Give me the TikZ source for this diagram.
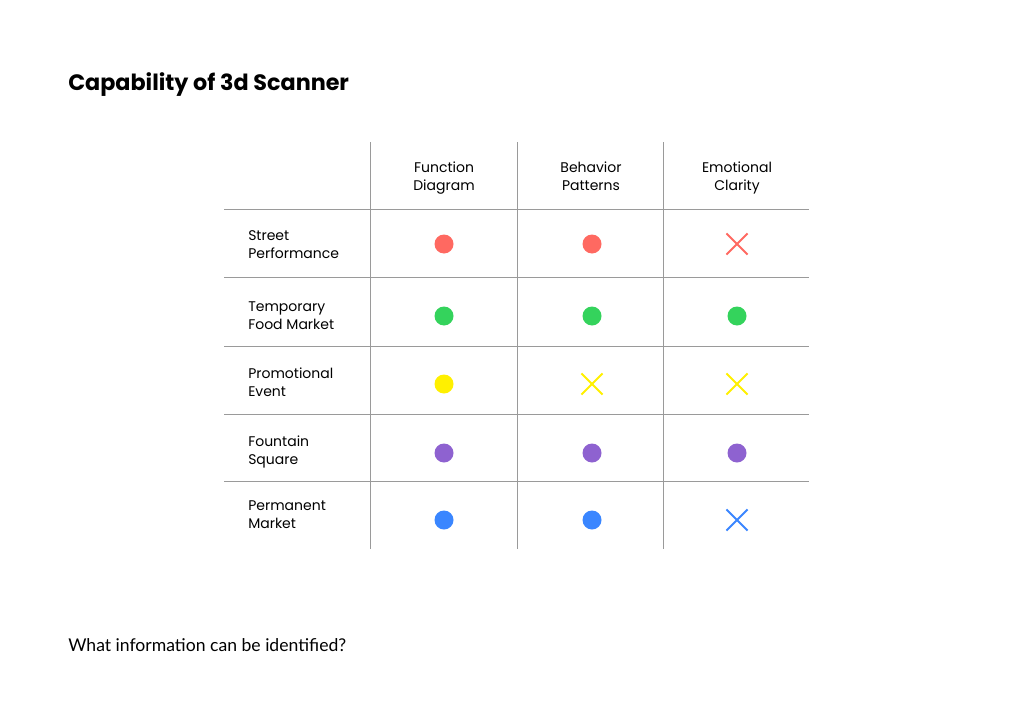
\documentclass[tikz,border=0pt]{standalone}
\usepackage{fontspec}
\setmainfont{Poppins}
\newfontfamily\bodyfont{Lato}
\definecolor{gridgray}{HTML}{9A9A9A}
\definecolor{capred}{HTML}{FF6961}
\definecolor{capgreen}{HTML}{34D35C}
\definecolor{capyellow}{HTML}{FFF000}
\definecolor{cappurple}{HTML}{8E62D0}
\definecolor{capblue}{HTML}{3A86FF}
\usetikzlibrary{shapes.misc}
\tikzset{
  dot/.style={circle, fill=#1, inner sep=0pt, minimum size=14.25pt},
  cross/.style={draw=#1, line width=1.4pt, minimum size=14.5pt, inner sep=0pt, cross out},
  rowlabel/.style={anchor=west, align=left, inner sep=0pt, font=\fontsize{10.5}{13.5}\selectfont},
  collabel/.style={align=center, font=\fontsize{10.5}{13.5}\selectfont}
}
\begin{document}
\begin{tikzpicture}[x=0.75pt, y=-0.75pt]
  \useasboundingbox (0,0) rectangle (1024,724);

  \node[anchor=west, inner sep=0pt, font=\bfseries\fontsize{16.7}{20}\selectfont] (title) at (68, 85) {Capability of 3d Scanner};
  \node[anchor=west, inner sep=0pt, font=\bodyfont\fontsize{13.2}{16}\selectfont] (question) at (68, 645) {What information can be identified?};

  % grid
  \draw[gridgray, line width=0.6pt]
    (370, 142) -- (370, 549)
    (517, 142) -- (517, 549)
    (663, 142) -- (663, 549)
    (224, 209) -- (809, 209)
    (224, 277) -- (809, 277)
    (224, 346) -- (809, 346)
    (224, 414) -- (809, 414)
    (224, 481) -- (809, 481)
  ;

  \node[collabel] (function) at (444, 178) {Function\\Diagram};
  \node[collabel] (behavior) at (591, 176) {Behavior\\Patterns};
  \node[collabel] (emotional) at (737, 178) {Emotional\\Clarity};

  \node[rowlabel] (street) at (248, 245) {Street\\Performance};
  \node[rowlabel] (temporary) at (248, 316) {Temporary\\Food Market};
  \node[rowlabel] (promotional) at (248, 382) {Promotional\\Event};
  \node[rowlabel] (fountain) at (248, 452) {Fountain\\Square};
  \node[rowlabel] (permanent) at (248, 515) {Permanent\\Market};

  \node[dot=capred] (street-f) at (444, 244) {};
  \node[dot=capred] (street-b) at (592, 244) {};
  \node[cross=capred] (street-e) at (737, 244) {};

  \node[dot=capgreen] (temporary-f) at (444, 316) {};
  \node[dot=capgreen] (temporary-b) at (592, 316) {};
  \node[dot=capgreen] (temporary-e) at (737, 316) {};

  \node[dot=capyellow] (promotional-f) at (444, 384) {};
  \node[cross=capyellow] (promotional-b) at (592, 384) {};
  \node[cross=capyellow] (promotional-e) at (737, 384) {};

  \node[dot=cappurple] (fountain-f) at (444, 453) {};
  \node[dot=cappurple] (fountain-b) at (592, 453) {};
  \node[dot=cappurple] (fountain-e) at (737, 453) {};

  \node[dot=capblue] (permanent-f) at (444, 520) {};
  \node[dot=capblue] (permanent-b) at (592, 520) {};
  \node[cross=capblue] (permanent-e) at (737, 520) {};
\end{tikzpicture}
\end{document}
